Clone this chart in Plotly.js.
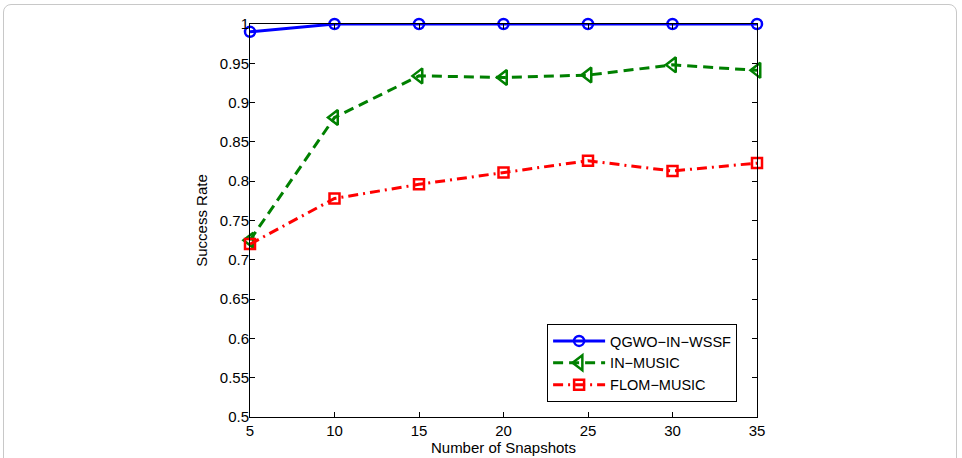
<!DOCTYPE html>
<html>
<head>
<meta charset="utf-8">
<script src="https://cdn.plot.ly/plotly-3.0.1.min.js"></script>
<style>
html,body{margin:0;padding:0;background:#fff;}
#frame{position:absolute;left:3px;top:4px;width:954px;height:480px;border:1px solid #c8c8c8;border-radius:8px;box-sizing:border-box;}
#chart{position:absolute;left:0;top:0;width:962px;height:458px;}
</style>
</head>
<body>
<div id="frame"></div>
<div id="chart"></div>
<script>
const snapshots = [5, 10, 15, 20, 25, 30, 35];
const qgwo = [0.990, 1.0, 1.0, 1.0, 1.0, 1.0, 1.0];
const inMusic = [0.725, 0.881, 0.934, 0.932, 0.935, 0.948, 0.941];
const flomMusic = [0.720, 0.778, 0.796, 0.811, 0.826, 0.813, 0.823];
const xTicks = [5, 10, 15, 20, 25, 30, 35];
const yTicks = [0.5, 0.55, 0.6, 0.65, 0.7, 0.75, 0.8, 0.85, 0.9, 0.95, 1];
const yTickText = ['0.5','0.55','0.6','0.65','0.7','0.75','0.8','0.85','0.9','0.95','1'];

const font = {family: '"Liberation Sans", Arial, Helvetica, sans-serif', size: 15, color: '#000'};
const legendFont = {family: '"Liberation Sans", Arial, Helvetica, sans-serif', size: 14.5, color: '#000'};

const traces = [
  {x: snapshots, y: qgwo, name: 'QGWO\u2212IN\u2212WSSF', mode: 'lines+markers', cliponaxis: false,
   line: {color: '#0000ff', width: 3, dash: 'solid'},
   marker: {symbol: 'circle-open', size: 10, color: '#0000ff', line: {width: 2.5, color: '#0000ff'}}},
  {x: snapshots, y: inMusic, name: 'IN\u2212MUSIC', mode: 'lines+markers', cliponaxis: false,
   line: {color: '#008000', width: 3, dash: '10px,6px'},
   marker: {symbol: 'triangle-left-open', size: 13, color: '#008000', line: {width: 2.5, color: '#008000'}}},
  {x: snapshots, y: flomMusic, name: 'FLOM\u2212MUSIC', mode: 'lines+markers', cliponaxis: false,
   line: {color: '#ff0000', width: 3, dash: '10px,5px,2px,5px'},
   marker: {symbol: 'square-open', size: 10, color: '#ff0000', line: {width: 2.5, color: '#ff0000'}}}
];

const layout = {
  width: 962, height: 458,
  margin: {l: 250, r: 205, t: 24, b: 41, pad: 0},
  paper_bgcolor: 'rgba(0,0,0,0)', plot_bgcolor: '#fff',
  font: font,
  showlegend: true,
  legend: {x: 0.586, y: 0.1374, xanchor: 'left', yanchor: 'middle',
           bgcolor: '#fff', bordercolor: '#000', borderwidth: 1,
           font: legendFont, itemwidth: 52, tracegroupgap: 0},
  xaxis: {range: [5, 35], tickvals: xTicks, ticktext: xTicks.map(String),
          showgrid: false, zeroline: false, showline: true, linecolor: '#000', linewidth: 1,
          mirror: 'ticks', ticks: 'inside', ticklen: 5, tickcolor: '#000',
          tickfont: font,
          title: {text: 'Number of Snapshots', font: font, standoff: 2}},
  yaxis: {range: [0.5, 1], tickvals: yTicks, ticktext: yTickText,
          showgrid: false, zeroline: false, showline: true, linecolor: '#000', linewidth: 1,
          mirror: 'ticks', ticks: 'inside', ticklen: 5, tickcolor: '#000',
          tickfont: font, ticklabelstandoff: -3,
          title: {text: 'Success Rate', font: font, standoff: 8}}
};

Plotly.newPlot('chart', traces, layout, {displayModeBar: false, staticPlot: true});
</script>
</body>
</html>
